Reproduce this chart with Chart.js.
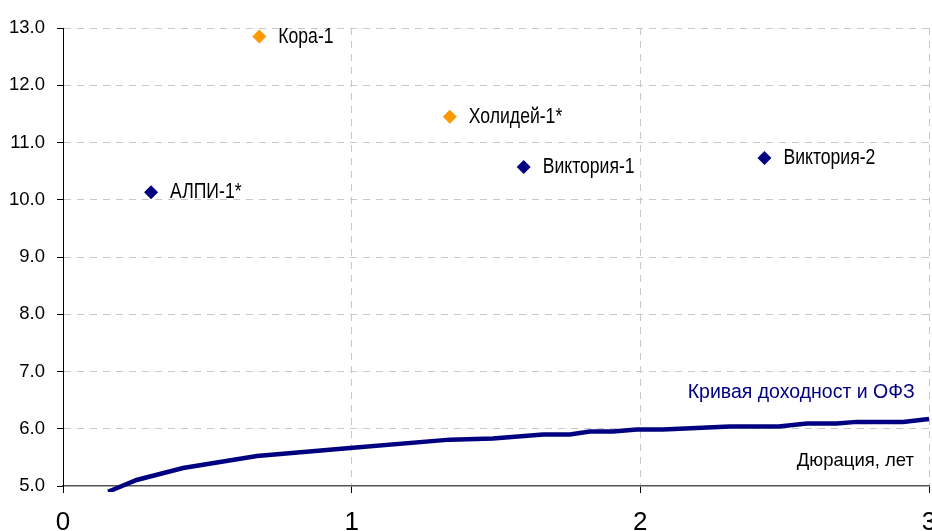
<!DOCTYPE html>
<html>
<head>
<meta charset="utf-8">
<script src="https://cdn.jsdelivr.net/npm/chart.js@4/dist/chart.umd.min.js"></script>
<style>
  html, body { margin: 0; padding: 0; background: #fff; overflow: hidden; }
  #wrap { width: 932px; height: 531px; }
</style>
</head>
<body>
<div id="wrap"><canvas id="yieldChart"></canvas></div>
<script>
// эмитенты: оранжевые и синие точки
const orangeNames = ["Кора-1", "Холидей-1*"];
const orangeDuration = [0.68, 1.34];
const orangeYield = [12.85, 11.45];

const blueNames = ["АЛПИ-1*", "Виктория-1", "Виктория-2"];
const blueDuration = [0.305, 1.596, 2.43];
const blueYield = [10.13, 10.57, 10.73];

// кривая доходности ОФЗ
const ofzDuration = [0.156, 0.255, 0.416, 0.672, 0.994, 1.34, 1.489, 1.663, 1.756, 1.825, 1.905, 1.988, 2.078, 2.31, 2.48, 2.577, 2.68, 2.75, 2.91, 3.0];
const ofzYield = [4.9, 5.105, 5.315, 5.525, 5.665, 5.81, 5.83, 5.9, 5.9, 5.95, 5.95, 5.985, 5.985, 6.04, 6.04, 6.09, 6.09, 6.12, 6.12, 6.17];

const yTicks = [5, 6, 7, 8, 9, 10, 11, 12, 13];
const xTicks = [0, 1, 2, 3];

const curveLabel = "Кривая доходност и ОФЗ";
const axisLabel = "Дюрация, лет";

const toPoints = (xs, ys) => xs.map((x, i) => ({ x: x, y: ys[i] }));

// подписи точек (узкий шрифт) и текст справа
const labelPlugin = {
  id: "labels",
  afterDatasetsDraw(chart) {
    const { ctx, scales } = chart;
    ctx.save();
    ctx.textBaseline = "middle";
    ctx.fillStyle = "#000";
    ctx.font = '22px "Liberation Sans", Arial, sans-serif';
    const squeeze = 0.8;
    const groups = [[orangeNames, orangeDuration, orangeYield], [blueNames, blueDuration, blueYield]];
    groups.forEach(([names, xs, ys]) => {
      names.forEach((n, i) => {
        const px = scales.x.getPixelForValue(xs[i]) + 19;
        const py = scales.y.getPixelForValue(ys[i]);
        ctx.save();
        ctx.translate(px, py);
        ctx.scale(squeeze, 1);
        ctx.fillText(n, 0, 0);
        ctx.restore();
      });
    });
    ctx.textAlign = "right";
    ctx.fillStyle = "#000080";
    ctx.font = '19.5px "Liberation Sans", Arial, sans-serif';
    ctx.fillText(curveLabel, scales.x.getPixelForValue(2.951), scales.y.getPixelForValue(6.63));
    ctx.fillStyle = "#000";
    ctx.font = '18.5px "Liberation Sans", Arial, sans-serif';
    ctx.fillText(axisLabel, scales.x.getPixelForValue(2.948), scales.y.getPixelForValue(5.44));
    ctx.restore();
  },
};

new Chart(document.getElementById("yieldChart"), {
  type: "scatter",
  data: {
    datasets: [
      {
        type: "line",
        data: toPoints(ofzDuration, ofzYield),
        borderColor: "#000080",
        borderWidth: 4.5,
        pointRadius: 0,
        tension: 0,
        clip: { left: 0, top: 0, right: 4, bottom: 6 },
      },
      {
        data: toPoints(orangeDuration, orangeYield),
        pointStyle: "rectRot",
        pointRadius: 7,
        backgroundColor: "#FF9900",
        borderColor: "#FF9900",
        borderWidth: 0,
      },
      {
        data: toPoints(blueDuration, blueYield),
        pointStyle: "rectRot",
        pointRadius: 7,
        backgroundColor: "#000080",
        borderColor: "#000080",
        borderWidth: 0,
      },
    ],
  },
  options: {
    responsive: true,
    maintainAspectRatio: false,
    animation: false,
    layout: { autoPadding: false, padding: { top: 28, right: 3, left: 0, bottom: 0 } },
    scales: {
      x: {
        type: "linear",
        min: 0,
        max: 3,
        afterBuildTicks: (s) => { s.ticks = xTicks.map((v) => ({ value: v })); },
        afterFit: (s) => { s.height = 45; s.paddingLeft = 0; s.paddingRight = 0; },
        ticks: { color: "#000", font: { size: 26, family: '"Liberation Sans", Arial' }, padding: 14, maxRotation: 0 },
        grid: {
          color: (c) => (c.tick && c.tick.value === 0 ? "rgba(0,0,0,0)" : "#c8c8c8"),
          tickColor: "#000",
          tickLength: 7,
          lineWidth: 1,
        },
        border: { color: "#555", width: 1.5, dash: [7, 6] },
      },
      y: {
        min: 5,
        max: 13,
        afterBuildTicks: (s) => { s.ticks = yTicks.map((v) => ({ value: v })); },
        afterFit: (s) => { s.width = 63; s.paddingTop = 0; s.paddingBottom = 0; },
        ticks: {
          color: "#000",
          font: { size: 18.5, family: '"Liberation Sans", Arial' },
          padding: 12,
          callback: (v) => v.toFixed(1),
        },
        grid: {
          color: (c) => (c.tick && c.tick.value === 5 ? "rgba(0,0,0,0)" : "#c8c8c8"),
          tickColor: "#000",
          tickLength: 6,
          lineWidth: 1,
        },
        border: { color: "#000", width: 1, dash: [7, 6] },
      },
    },
    plugins: { legend: { display: false }, tooltip: { enabled: false } },
  },
  plugins: [labelPlugin],
});
</script>
</body>
</html>
